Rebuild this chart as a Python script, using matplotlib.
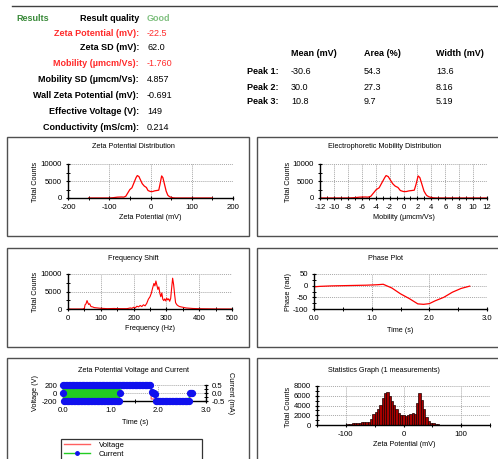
import numpy as np
import matplotlib
matplotlib.use('Agg')
from matplotlib import pyplot as plt
from matplotlib.ticker import MultipleLocator
from matplotlib.lines import Line2D

plt.rcParams['font.family'] = ['Liberation Sans', 'DejaVu Sans']
plt.rcParams['axes.unicode_minus'] = False

# summary table
result_labels = ['Zeta Potential (mV):', 'Zeta SD (mV):', 'Mobility (µmcm/Vs):', 'Mobility SD (µmcm/Vs):',
                 'Wall Zeta Potential (mV):', 'Effective Voltage (V):', 'Conductivity (mS/cm):']
result_values = ['-22.5', '62.0', '-1.760', '4.857', '-0.691', '149', '0.214']
result_red = [True, False, True, False, False, False, False]
peak_names = ['Peak 1:', 'Peak 2:', 'Peak 3:']
peak_mean = ['-30.6', '30.0', '10.8']
peak_area = ['54.3', '27.3', '9.7']
peak_width = ['13.6', '8.16', '5.19']

# zeta potential distribution
zeta_mv = [-150, -100, -90, -80, -70, -65, -60, -55, -50, -45, -40, -35, -32, -28, -25, -20, -15, -10, -6, 0,
           5, 10, 15, 20, 23, 27, 30, 34, 38, 42, 46, 50, 55, 60, 100, 150]
zeta_counts = [0, 0, 100, 250, 300, 250, 500, 1500, 2500, 3000, 4500, 6000, 6600, 6300, 5500, 4200, 3500, 3100, 2200, 1900,
               1900, 2100, 2200, 2300, 4000, 6500, 6000, 4000, 2000, 800, 400, 200, 50, 0, 0, 0]
# mobility distribution
mobility = [-12, -8, -7, -6.3, -5.5, -5.1, -4.7, -4.3, -3.9, -3.5, -3.1, -2.7, -2.5, -2.2, -1.95, -1.55, -1.2, -0.8, -0.45, 0,
            0.4, 0.8, 1.2, 1.55, 1.8, 2.1, 2.35, 2.65, 2.95, 3.3, 3.6, 3.9, 4.3, 4.7, 8, 12]
mobility_counts = zeta_counts

# frequency shift
freq = [0, 45, 50, 52, 55, 58, 60, 63, 66, 70, 75, 80, 90, 100, 120, 140, 160, 180, 190, 195,
        200, 205, 210, 215, 220, 225, 230, 235, 240, 245, 250, 254, 258, 262, 265, 268, 271, 274, 277, 280,
        283, 286, 289, 292, 295, 298, 301, 304, 307, 310, 313, 316, 319, 322, 325, 328, 332, 336, 340, 350,
        360, 380, 400, 450, 500]
freq_counts = [0, 0, 200, 1200, 1500, 2400, 1900, 1300, 1500, 700, 600, 400, 300, 200, 100, 150, 100, 100, 300, 200,
               500, 300, 800, 600, 1000, 700, 1200, 900, 1600, 2800, 3500, 4500, 6000, 7300, 6600, 8000, 6800, 5600, 6300, 4500,
               3500, 4600, 2800, 2400, 2900, 2300, 3100, 2600, 2900, 2200, 3000, 6000, 8800, 7000, 4200, 1800, 1200, 900, 700, 500,
               300, 150, 80, 20, 0]

# phase plot
phase_t = [0, 0.1, 0.3, 0.5, 0.7, 0.9, 1.1, 1.2, 1.35, 1.5, 1.65, 1.8, 1.9, 2.0, 2.1, 2.25, 2.4, 2.55, 2.7]
phase = [-5, -3, -1, 0, 1, 2, 4, 6, -10, -35, -55, -78, -80, -77, -65, -50, -28, -12, -2]

# voltage and current (fast field: square wave, slow field: steps)
volt_t = [0.0, 1.2, 1.2, 1.85, 1.85, 2.65, 2.7]
volt = [150, 150, 150, 150, -150, -150, 0]
fast_t = [0.000, 0.015, 0.030, 0.045, 0.060, 0.075, 0.090, 0.105, 0.120, 0.135, 0.150, 0.165, 0.180, 0.195,
          0.210, 0.225, 0.240, 0.255, 0.270, 0.285, 0.300, 0.315, 0.330, 0.345, 0.360, 0.375, 0.390, 0.405,
          0.420, 0.435, 0.450, 0.465, 0.480, 0.495, 0.510, 0.525, 0.540, 0.555, 0.570, 0.585, 0.600, 0.615,
          0.630, 0.645, 0.660, 0.675, 0.690, 0.705, 0.720, 0.735, 0.750, 0.765, 0.780, 0.795, 0.810, 0.825,
          0.840, 0.855, 0.870, 0.885, 0.900, 0.915, 0.930, 0.945, 0.960, 0.975, 0.990, 1.005, 1.020, 1.035,
          1.050, 1.065, 1.080, 1.095, 1.110, 1.125, 1.140, 1.155, 1.170, 1.185, 1.200]
fast_cur = [0.47, -0.47, 0.47, -0.47, 0.47, -0.47, 0.47, -0.47, 0.47, -0.47, 0.47, -0.47, 0.47, -0.47,
            0.47, -0.47, 0.47, -0.47, 0.47, -0.47, 0.47, -0.47, 0.47, -0.47, 0.47, -0.47, 0.47, -0.47,
            0.47, -0.47, 0.47, -0.47, 0.47, -0.47, 0.47, -0.47, 0.47, -0.47, 0.47, -0.47, 0.47, -0.47,
            0.47, -0.47, 0.47, -0.47, 0.47, -0.47, 0.47, -0.47, 0.47, -0.47, 0.47, -0.47, 0.47, -0.47,
            0.47, -0.47, 0.47, -0.47, 0.47, -0.47, 0.47, -0.47, 0.47, -0.47, 0.47, -0.47, 0.47, -0.47,
            0.47, -0.47, 0.47, -0.47, 0.47, -0.47, 0.47, -0.47, 0.47, -0.47, 0.47]
slow_t = [0.0, 1.20, 1.23, 1.26, 1.29, 1.32, 1.35, 1.38, 1.41, 1.44, 1.47, 1.50, 1.53, 1.56, 1.59, 1.62, 1.65,
          1.68, 1.71, 1.74, 1.77, 1.80, 1.83, 1.86, 1.88, 1.90, 1.92, 1.95, 1.98, 2.01, 2.04, 2.07, 2.10,
          2.13, 2.16, 2.19, 2.22, 2.25, 2.28, 2.31, 2.34, 2.37, 2.40, 2.43, 2.46, 2.49, 2.52, 2.55, 2.58,
          2.61, 2.64, 2.66, 2.68, 2.70]
slow_cur = [0.0, 0.0, 0.47, 0.47, 0.47, 0.47, 0.47, 0.47, 0.47, 0.47, 0.47, 0.47, 0.47, 0.47, 0.47, 0.47, 0.47,
            0.47, 0.47, 0.47, 0.47, 0.47, 0.47, 0.05, 0.0, 0.0, -0.05, -0.47, -0.47, -0.47, -0.47, -0.47, -0.47,
            -0.47, -0.47, -0.47, -0.47, -0.47, -0.47, -0.47, -0.47, -0.47, -0.47, -0.47, -0.47, -0.47, -0.47, -0.47, -0.47,
            -0.47, -0.47, 0.0, 0.0, 0.0]

# statistics graph
stat_mv = [-100, -96, -92, -88, -84, -80, -76, -72, -68, -64, -60, -56, -52, -48, -44, -40, -36, -32, -28, -24, -20, -16,
           -12, -8, -4, 0, 4, 8, 12, 16, 20, 24, 28, 32, 36, 40, 44, 48, 52, 56, 60, 64, 68]
stat_counts = [100, 150, 250, 350, 400, 450, 500, 550, 600, 550, 700, 1200, 2300, 2700, 3200, 4200, 5500, 6500, 6700, 6000, 5000, 4200,
               3200, 2500, 2100, 2000, 1900, 2000, 2300, 2400, 2200, 4500, 6500, 5200, 3200, 1600, 900, 500, 350, 250, 150, 80, 40]

W, H = 498, 459
fig = plt.figure(figsize=(W / 100, H / 100), dpi=100)


def fx(px):
    return px / W


def fy(py):
    return 1 - py / H


def add_ax(x0, y0, x1, y1):
    return fig.add_axes([fx(x0), fy(y1), (x1 - x0) / W, (y1 - y0) / H])


def ticks(ax):
    ax.tick_params(labelsize=5.6, length=3.5, width=0.8, direction='inout', pad=2.5)
    ax.tick_params(which='minor', length=3, width=0.7, direction='inout')


def style(ax):
    for s in ['top', 'right']:
        ax.spines[s].set_visible(False)
    for s in ['left', 'bottom']:
        ax.spines[s].set_linewidth(1.0)
    ax.grid(True, color='#a8a8a8', linestyle=(0, (1, 1)), linewidth=0.7)
    ax.set_axisbelow(True)
    ticks(ax)


def box(x0, y0, x1, y1):
    fig.add_artist(plt.Rectangle((fx(x0), fy(y1)), (x1 - x0) / W, (y1 - y0) / H,
                                 transform=fig.transFigure, fill=False, ec='#505050', lw=1.0))


def ftext(x, y, s, **kw):
    kw.setdefault('fontsize', 5.2)
    kw.setdefault('ha', 'center')
    kw.setdefault('va', 'center')
    fig.text(fx(x), fy(y), s, **kw)


# header
fig.add_artist(Line2D([fx(12), fx(498)], [fy(6), fy(6)], transform=fig.transFigure, color='#404040', lw=1))
ftext(16, 18.5, 'Results', ha='left', fontsize=6.5, fontweight='bold', color='#3a8a3a')
ftext(139, 18.5, 'Result quality', ha='right', fontsize=6.5, fontweight='bold', color='black')
ftext(147, 18.5, 'Good', ha='left', fontsize=6.5, fontweight='bold', color='#80c080')
rows_y = [33, 48, 63.5, 80, 95, 111, 127]
for lab, val, red, y in zip(result_labels, result_values, result_red, rows_y):
    c = '#ff2a2a' if red else 'black'
    ftext(139, y, lab, ha='right', fontsize=6.5, fontweight='bold', color=c)
    ftext(147, y, val, ha='left', fontsize=6.5, color=c)

for x, h in zip([291, 364, 436], ['Mean (mV)', 'Area (%)', 'Width (mV)']):
    ftext(x, 53, h, ha='left', fontsize=6.5, fontweight='bold')
for i, y in enumerate([72, 87, 102]):
    ftext(247, y, peak_names[i], ha='left', fontsize=6.5, fontweight='bold')
    ftext(291, y, peak_mean[i], ha='left', fontsize=6.5)
    ftext(364, y, peak_area[i], ha='left', fontsize=6.5)
    ftext(436, y, peak_width[i], ha='left', fontsize=6.5)

# panel frames
box(7, 137, 249, 236)
box(257, 137, 502, 236)
box(7, 248, 249, 347)
box(257, 248, 502, 347)
box(7, 358, 249, 465)
box(257, 358, 502, 465)

# zeta potential distribution
ax1 = add_ax(68, 164, 233, 198)
style(ax1)
ax1.plot(zeta_mv, zeta_counts, color='red', lw=0.9)
ax1.set_xlim(-200, 200)
ax1.set_ylim(0, 10000)
ax1.xaxis.set_major_locator(MultipleLocator(100))
ax1.xaxis.set_minor_locator(MultipleLocator(50))
ax1.yaxis.set_major_locator(MultipleLocator(5000))
ax1.yaxis.set_minor_locator(MultipleLocator(2500))
ftext(133, 147, 'Zeta Potential Distribution')
ftext(150, 218, 'Zeta Potential (mV)')
ftext(35, 182, 'Total Counts', rotation=90)

# mobility distribution
ax2 = add_ax(320, 164, 487, 198)
style(ax2)
ax2.plot(mobility, mobility_counts, color='red', lw=0.9)
ax2.set_xlim(-12, 12)
ax2.set_ylim(0, 10000)
ax2.xaxis.set_major_locator(MultipleLocator(2))
ax2.xaxis.set_minor_locator(MultipleLocator(1))
ax2.yaxis.set_major_locator(MultipleLocator(5000))
ax2.yaxis.set_minor_locator(MultipleLocator(2500))
ftext(385, 147, 'Electrophoretic Mobility Distribution')
ftext(404, 218, 'Mobility (µmcm/Vs)')
ftext(288, 182, 'Total Counts', rotation=90)

# frequency shift
ax3 = add_ax(68, 274, 232, 309)
style(ax3)
ax3.plot(freq, freq_counts, color='red', lw=0.8)
ax3.set_xlim(0, 500)
ax3.set_ylim(0, 10000)
ax3.xaxis.set_major_locator(MultipleLocator(100))
ax3.xaxis.set_minor_locator(MultipleLocator(50))
ax3.yaxis.set_major_locator(MultipleLocator(5000))
ax3.yaxis.set_minor_locator(MultipleLocator(2500))
ftext(133, 258, 'Frequency Shift')
ftext(150, 329, 'Frequency (Hz)')
ftext(35, 292, 'Total Counts', rotation=90)

# phase plot
ax4 = add_ax(314, 274, 487, 309)
style(ax4)
ax4.plot(phase_t, phase, color='red', lw=0.9)
ax4.set_xlim(0, 3)
ax4.set_ylim(-100, 50)
ax4.xaxis.set_major_locator(MultipleLocator(1))
ax4.xaxis.set_minor_locator(MultipleLocator(0.5))
ax4.xaxis.set_major_formatter('{x:.1f}')
ax4.yaxis.set_major_locator(MultipleLocator(50))
ax4.yaxis.set_minor_locator(MultipleLocator(25))
ftext(385, 258, 'Phase Plot')
ftext(400, 330, 'Time (s)')
ftext(288, 292, 'Phase (rad)', rotation=90)

# voltage and current
ax5 = add_ax(63, 385, 206, 401)
style(ax5)
ax5.plot(volt_t, volt, color='#ff6060', lw=0.9)
ax5.set_xlim(0, 3)
ax5.set_ylim(-200, 200)
ax5.xaxis.set_major_locator(MultipleLocator(1))
ax5.xaxis.set_minor_locator(MultipleLocator(0.5))
ax5.xaxis.set_major_formatter('{x:.1f}')
ax5.yaxis.set_major_locator(MultipleLocator(200))
ax5b = ax5.twinx()
cur_style = dict(color='#22cc22', lw=0.9, marker='o', ms=4.2, mfc='#1010ee', mec='#1010ee', clip_on=False)
ax5b.plot(fast_t, fast_cur, **cur_style)
ax5b.plot(slow_t, slow_cur, **cur_style)
ax5b.set_ylim(-0.5, 0.5)
ax5b.yaxis.set_major_locator(MultipleLocator(0.5))
ax5b.yaxis.set_minor_locator(MultipleLocator(0.25))
ax5b.yaxis.set_major_formatter('{x:.1f}')
for s in ['top', 'left', 'bottom']:
    ax5b.spines[s].set_visible(False)
ax5b.spines['right'].set_linewidth(1.0)
ticks(ax5b)
ftext(133, 370, 'Zeta Potential Voltage and Current')
ftext(135, 422, 'Time (s)')
ftext(35, 393, 'Voltage (V)', rotation=90)
ftext(230, 393, 'Current (mA)', rotation=270)
handles = [Line2D([], [], color='#ff6060', lw=1),
           Line2D([], [], color='#22cc22', lw=1, marker='o', ms=2.5, mfc='#1010ee', mec='#1010ee')]
leg = fig.legend(handles, ['Voltage', 'Current'], loc='upper left',
                 bbox_to_anchor=(fx(61), fy(462), (202 - 61) / W, (462 - 439) / H), mode='expand',
                 fontsize=5.5, frameon=True, fancybox=False, edgecolor='black', handlelength=3.4,
                 handletextpad=1.2, borderpad=0.35, labelspacing=0.15, borderaxespad=0)
leg.get_frame().set_linewidth(0.9)

# statistics graph
ax6 = add_ax(317, 386, 490, 425)
style(ax6)
ax6.bar(stat_mv, stat_counts, width=4, color='#a80000', edgecolor='#1a0000', linewidth=0.5)
ax6.set_xlim(-150, 150)
ax6.set_ylim(0, 8000)
ax6.xaxis.set_major_locator(MultipleLocator(100))
ax6.xaxis.set_minor_locator(MultipleLocator(50))
ax6.yaxis.set_major_locator(MultipleLocator(2000))
ax6.yaxis.set_minor_locator(MultipleLocator(1000))
ftext(384, 370, 'Statistics Graph (1 measurements)')
ftext(404, 445, 'Zeta Potential (mV)')
ftext(288, 407, 'Total Counts', rotation=90)

fig.savefig('out.png', dpi=100)
